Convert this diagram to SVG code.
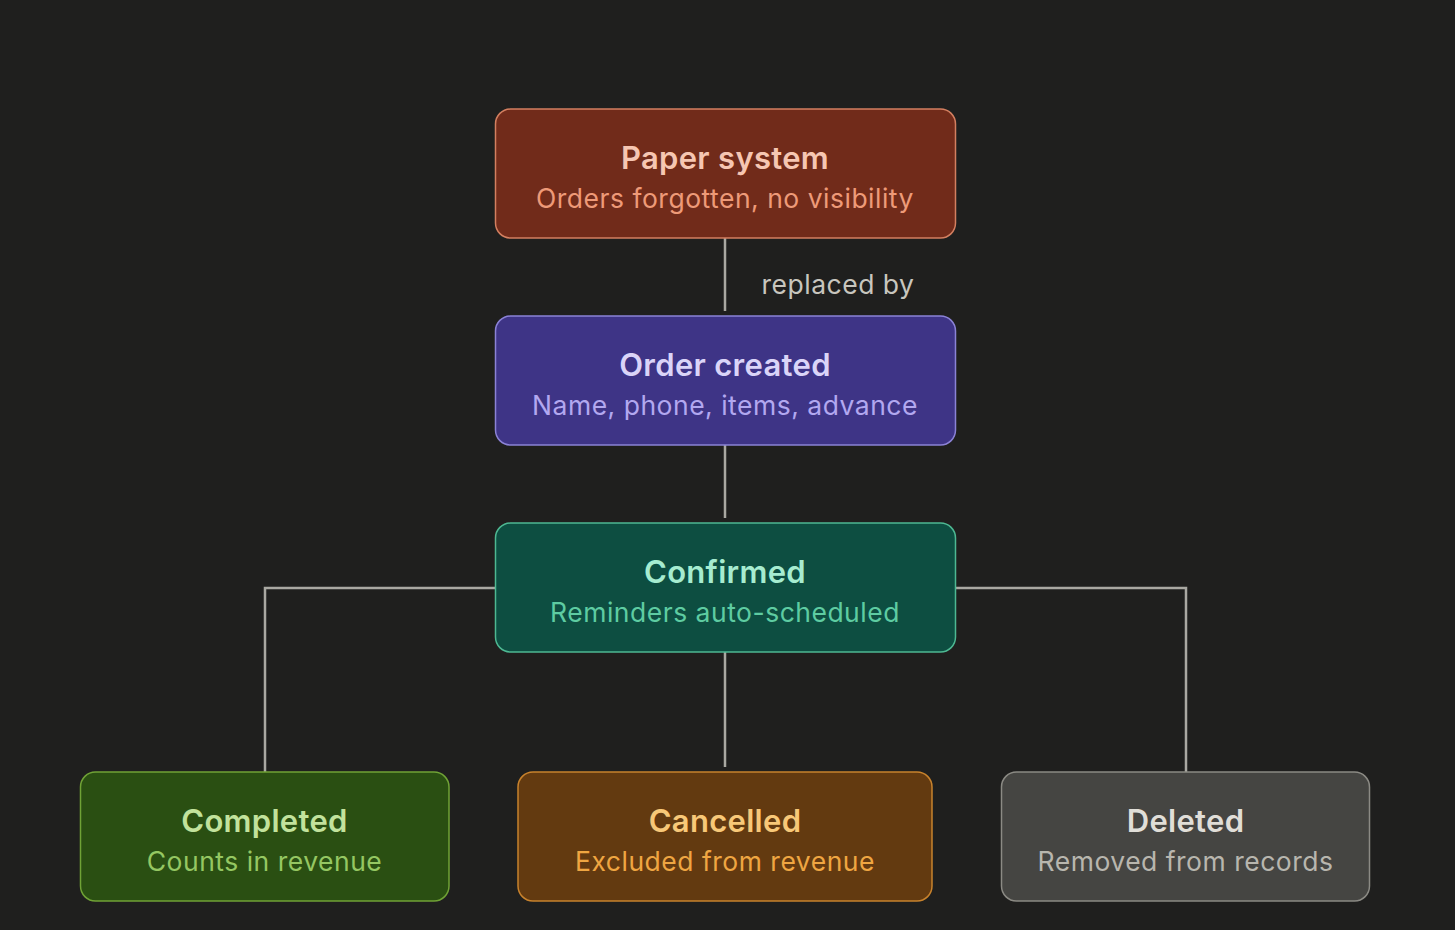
<svg xmlns="http://www.w3.org/2000/svg" width="1455" height="930" viewBox="0 0 1455 930">
<style>
.t{font-family:Inter,"Noto Sans","Liberation Sans",sans-serif;font-size:31px;font-weight:600;text-anchor:middle;letter-spacing:0.3px}
.s{font-family:Inter,"Noto Sans","Liberation Sans",sans-serif;font-size:26.5px;font-weight:400;text-anchor:middle;letter-spacing:0.5px}
.c{fill:none;stroke:#a9a8a2;stroke-width:2.5}
.n rect{stroke-width:1.5}
</style>
<rect width="1455" height="930" fill="#1f1f1e"/>
<g id="connectors">
<line class="c" x1="725" y1="238" x2="725" y2="311"/>
<line class="c" x1="725" y1="445" x2="725" y2="518"/>
<line class="c" x1="725" y1="652" x2="725" y2="767"/>
<polyline class="c" points="495,588 265,588 265,772"/>
<polyline class="c" points="956,588 1186,588 1186,772"/>
<text class="s" x="838" y="294" fill="#c8c6be">replaced by</text>
</g>
<g id="paper" class="n">
<rect x="495.5" y="109" width="460" height="129" rx="15" fill="#712b1a" stroke="#d37f60"/>
<text class="t" x="725" y="169" fill="#f6c6b2">Paper system</text>
<text class="s" x="725" y="208" fill="#ee9a78">Orders forgotten, no visibility</text>
</g>
<g id="order" class="n">
<rect x="495.5" y="316" width="460" height="129" rx="15" fill="#3e3486" stroke="#8b82d6"/>
<text class="t" x="725" y="376" fill="#dad4f8">Order created</text>
<text class="s" x="725" y="415" fill="#b2a8f0">Name, phone, items, advance</text>
</g>
<g id="confirmed" class="n">
<rect x="495.5" y="523" width="460" height="129" rx="15" fill="#0d4e41" stroke="#4db892"/>
<text class="t" x="725" y="583" fill="#a6ecd0">Confirmed</text>
<text class="s" x="725" y="622" fill="#5ecca2">Reminders auto-scheduled</text>
</g>
<g id="completed" class="n">
<rect x="80.5" y="772" width="368.5" height="129" rx="15" fill="#2a4f12" stroke="#70a236"/>
<text class="t" x="264.5" y="832" fill="#c2e29c">Completed</text>
<text class="s" x="264.5" y="871" fill="#95c762">Counts in revenue</text>
</g>
<g id="cancelled" class="n">
<rect x="518" y="772" width="414" height="129" rx="15" fill="#633a10" stroke="#c8822c"/>
<text class="t" x="725" y="832" fill="#f8c878">Cancelled</text>
<text class="s" x="725" y="871" fill="#efa642">Excluded from revenue</text>
</g>
<g id="deleted" class="n">
<rect x="1001.5" y="772" width="368" height="129" rx="15" fill="#454542" stroke="#8b8a84"/>
<text class="t" x="1185.5" y="832" fill="#e0ded8">Deleted</text>
<text class="s" x="1185.5" y="871" fill="#b8b6ae">Removed from records</text>
</g>
</svg>
